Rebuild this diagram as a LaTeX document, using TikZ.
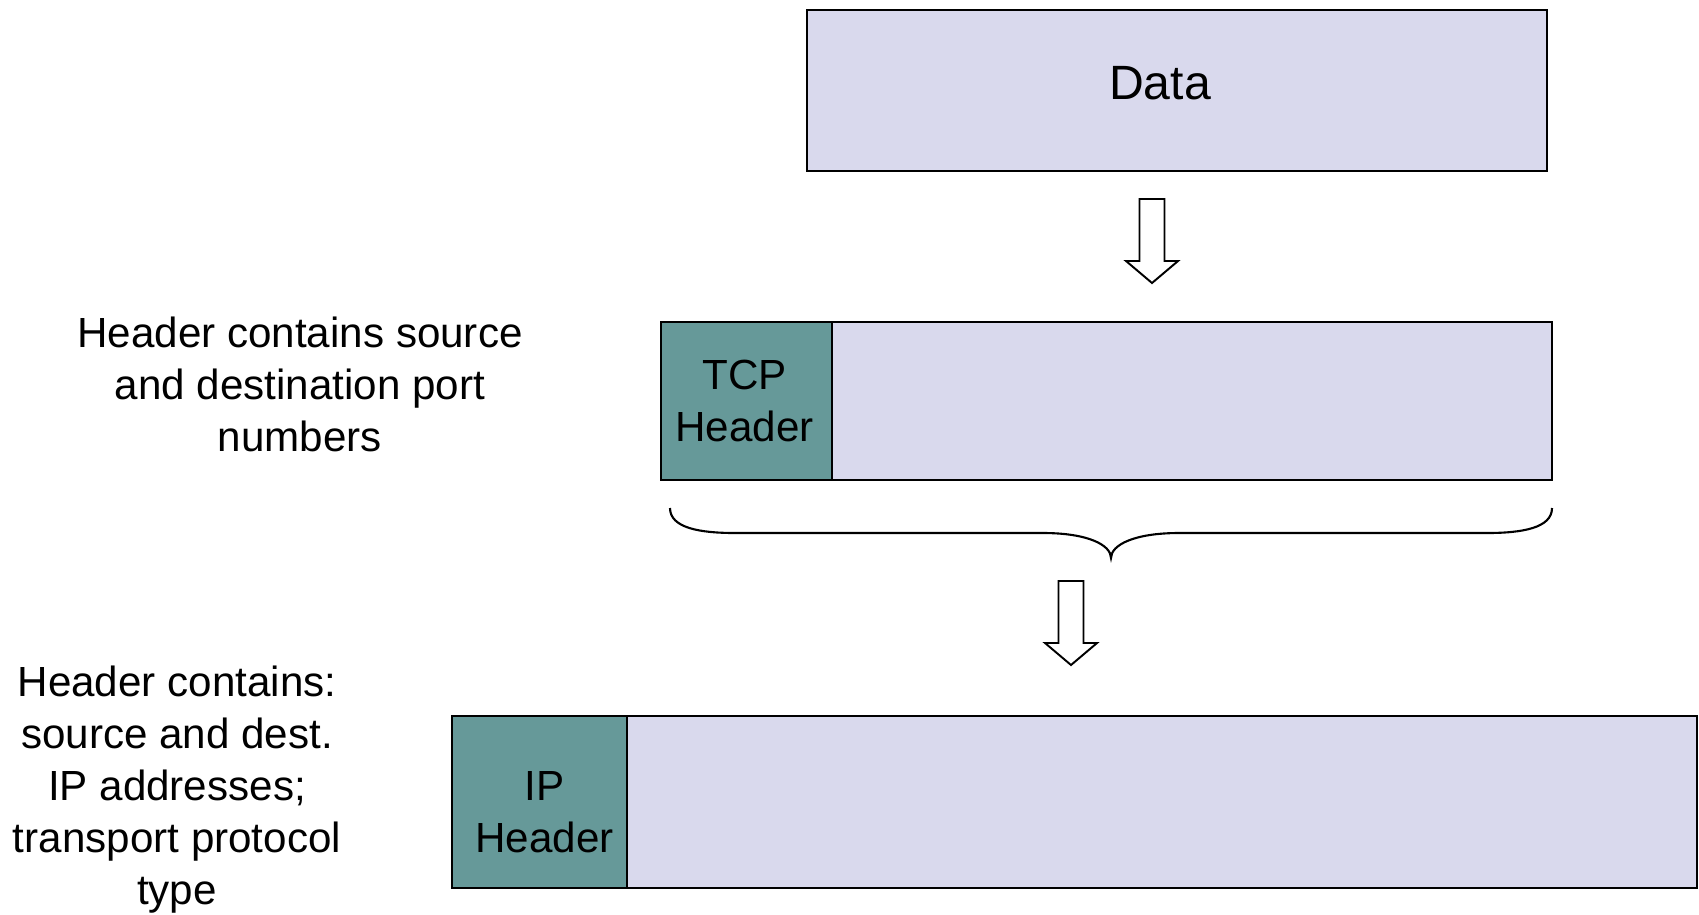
\documentclass[tikz,border=0pt]{standalone}
\usepackage{fontspec}
\setmainfont{Liberation Sans}
\usetikzlibrary{positioning}

\definecolor{pktfill}{RGB}{217,217,237}
\definecolor{hdrfill}{RGB}{102,153,153}

\tikzset{
    pktbox/.style={draw=black, line width=1.3pt, fill=pktfill, inner sep=0pt, outer sep=0pt},
    hdrbox/.style={pktbox, fill=hdrfill},
    note/.style={align=center, font=\fontsize{24}{29.6}\selectfont},
    blockarrow/.pic={
        \draw[line width=1.1pt, fill=white]
            (-12.5,0) -- (12.5,0) -- (12.5,62) -- (26,62) -- (0,84)
            -- (-26,62) -- (-12.5,62) -- cycle;
    }
}

\begin{document}
\begin{tikzpicture}[x=0.02cm, y=-0.02cm]
    \useasboundingbox (0,0) rectangle (1699,914);
    % application data
    \node[pktbox, minimum width=14.8cm, minimum height=3.22cm] (data) at (1177,90.5) {};
    \node[font=\fontsize{27.4}{33}\selectfont] (datatext) at ([shift={(-17,-7)}]data.center) {Data};
    \pic at (1152,199) {blockarrow};
    % transport segment
    \node[hdrbox, minimum width=3.42cm, minimum height=3.16cm] (tcphdr) at (746.5,401) {};
    \node[pktbox, right=0pt of tcphdr, minimum width=14.4cm, minimum height=3.16cm] (tcpdata) {};
    \node[note] (tcptext) at ([shift={(-2,0)}]tcphdr.center) {TCP\\Header};
    \node[note] (tcpnote) at (300,384) {Header contains source\\and destination port\\numbers};
    % brace over the whole segment
    \draw[line width=1.2pt]
        (670,508) .. controls (670,528) and (700,533) .. (735,533) -- (1043,533)
        .. controls (1088,533) and (1111,545) .. (1111,558)
        .. controls (1111,545) and (1134,533) .. (1179,533) -- (1487,533)
        .. controls (1522,533) and (1552,528) .. (1552,508);
    \pic at (1071,581) {blockarrow};
    % network datagram
    \node[hdrbox, minimum width=3.5cm, minimum height=3.44cm] (iphdr) at (539.5,802) {};
    \node[pktbox, right=0pt of iphdr, minimum width=21.4cm, minimum height=3.44cm] (ipdata) {};
    \node[note] (iptext) at ([shift={(5,10)}]iphdr.center) {IP\\Header};
    \node[note] (ipnote) at (177,790) {Header contains:\\source and dest.\\IP addresses;\\transport protocol\\type};
\end{tikzpicture}
\end{document}
